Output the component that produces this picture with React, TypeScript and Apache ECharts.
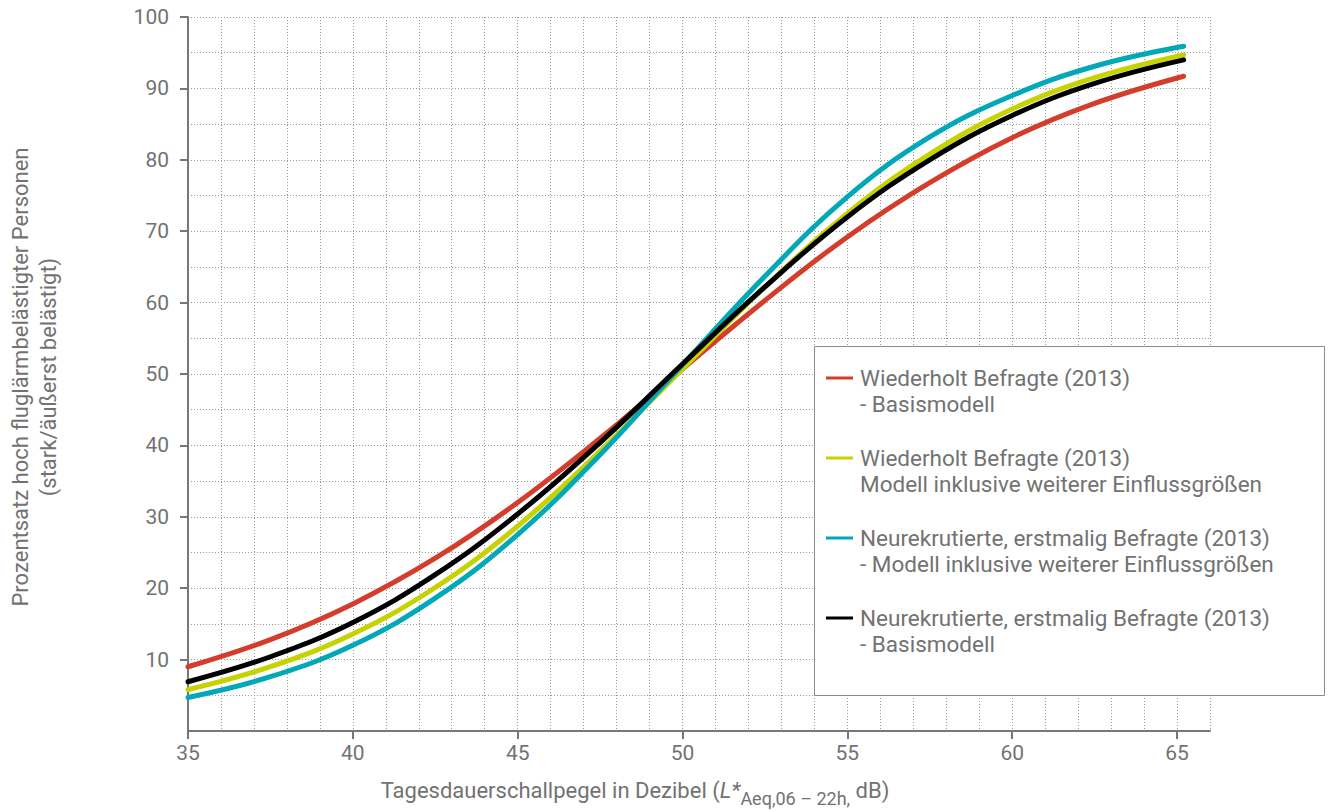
import React, { useEffect, useRef } from "react";
import * as echarts from "echarts";

const xValues = [35, 37.5, 40, 42.5, 45, 47.5, 50, 52.5, 55, 57.5, 60, 62.5, 65.2];
const redBasis = [9.0, 12.8, 17.8, 24.2, 32.0, 41.0, 50.7, 60.3, 69.2, 76.8, 83.1, 87.9, 91.7];
const yellowModel = [5.8, 9.0, 13.6, 20.1, 28.7, 39.2, 50.7, 62.2, 72.5, 80.8, 87.1, 91.5, 94.7];
const cyanModel = [4.7, 7.6, 12.0, 18.6, 27.5, 38.7, 51.3, 63.7, 74.8, 83.2, 89.0, 93.1, 95.9];
const blackBasis = [6.9, 10.4, 15.2, 21.9, 30.4, 40.4, 51.4, 62.2, 72.0, 80.0, 86.2, 90.7, 94.0];

const xTickValues = [35, 40, 45, 50, 55, 60, 65];
const yTickValues = [10, 20, 30, 40, 50, 60, 70, 80, 90, 100];

const seriesNames = [
  "Wiederholt Befragte (2013)\n- Basismodell",
  "Wiederholt Befragte (2013)\nModell inklusive weiterer Einflussgrößen",
  "Neurekrutierte, erstmalig Befragte (2013)\n- Modell inklusive weiterer Einflussgrößen",
  "Neurekrutierte, erstmalig Befragte (2013)\n- Basismodell",
];
const seriesColors = ["#d43d2b", "#c6d300", "#00a8b8", "#000000"];
const seriesValues = [redBasis, yellowModel, cyanModel, blackBasis];

const FONT = "Roboto";
const TEXT_COLOR = "#727272";
const AXIS_COLOR = "#777777";
const GRID_COLOR = "#9a9a9a";

export default function App() {
  const ref = useRef<HTMLDivElement>(null);

  useEffect(() => {
    if (!ref.current) return;
    const chart = echarts.init(ref.current, null, { renderer: "svg" });

    const series = seriesNames.map((name, i) => ({
      name,
      type: "line",
      xAxisIndex: 0,
      yAxisIndex: 0,
      smooth: 0.4,
      showSymbol: false,
      symbol: "none",
      color: seriesColors[i],
      lineStyle: { width: 5, color: seriesColors[i], cap: "round" },
      data: xValues.map((x, j) => [x, seriesValues[i][j]]),
    }));

    chart.setOption({
      animation: false,
      backgroundColor: "#ffffff",
      textStyle: { fontFamily: FONT },
      grid: { left: 188, top: 17, right: 123, bottom: 79, containLabel: false },
      xAxis: [
        {
          type: "value",
          min: 35,
          max: 66,
          interval: 5,
          position: "bottom",
          z: 3,
          axisLine: { show: true, lineStyle: { color: AXIS_COLOR, width: 2 } },
          axisTick: {
            show: true,
            length: 8,
            customValues: xTickValues,
            lineStyle: { color: AXIS_COLOR, width: 2 },
          },
          axisLabel: {
            customValues: xTickValues,
            color: TEXT_COLOR,
            fontSize: 21,
            fontFamily: FONT,
            margin: 11,
          },
          splitLine: { show: false },
        },
        {
          type: "value",
          min: 35,
          max: 66,
          interval: 1,
          position: "top",
          z: 1,
          axisLine: { show: false },
          axisTick: { show: false },
          axisLabel: { show: false },
          splitLine: { show: true, lineStyle: { color: GRID_COLOR, width: 1, type: [1, 2] } },
        },
      ],
      yAxis: [
        {
          type: "value",
          min: 0,
          max: 100,
          interval: 10,
          position: "left",
          z: 3,
          axisLine: { show: true, lineStyle: { color: AXIS_COLOR, width: 2 } },
          axisTick: {
            show: true,
            length: 8,
            customValues: yTickValues,
            lineStyle: { color: AXIS_COLOR, width: 2 },
          },
          axisLabel: {
            customValues: yTickValues,
            color: TEXT_COLOR,
            fontSize: 21,
            fontFamily: FONT,
            margin: 19,
          },
          splitLine: { show: false },
        },
        {
          type: "value",
          min: 0,
          max: 100,
          interval: 5,
          position: "right",
          z: 1,
          axisLine: { show: false },
          axisTick: { show: false },
          axisLabel: { show: false },
          splitLine: { show: true, lineStyle: { color: GRID_COLOR, width: 1, type: [1, 2] } },
        },
      ],
      legend: {
        show: true,
        orient: "vertical",
        left: 826,
        top: 339,
        padding: 0,
        itemGap: 2,
        itemWidth: 27,
        itemHeight: 3,
        icon: "rect",
        data: seriesNames,
        formatter: (name: string) => " \n" + name,
        textStyle: {
          color: TEXT_COLOR,
          fontSize: 22.5,
          fontFamily: FONT,
          lineHeight: 26,
          padding: [0, 0, 0, 2],
        },
        z: 10,
      },
      graphic: [
        {
          type: "rect",
          z: 5,
          shape: { x: 814.5, y: 346.5, width: 510, height: 349 },
          style: { fill: "#ffffff", stroke: "#8a8a8a", lineWidth: 1 },
        },
        {
          type: "text",
          x: 34,
          y: 377,
          rotation: Math.PI / 2,
          style: {
            text: "Prozentsatz hoch fluglärmbelästigter Personen\n(stark/äußerst belästigt)",
            fill: TEXT_COLOR,
            fontSize: 22,
            fontFamily: FONT,
            lineHeight: 28,
            align: "center",
            verticalAlign: "middle",
          },
        },
        {
          type: "text",
          x: 635,
          y: 790,
          style: {
            text: "{n|Tagesdauerschallpegel in Dezibel (}{i|L*}{s|Aeq,06 – 22h,}{n| dB)}",
            align: "center",
            verticalAlign: "middle",
            rich: {
              n: { fontSize: 22, fontFamily: FONT, fill: TEXT_COLOR, lineHeight: 34, verticalAlign: "middle" },
              i: { fontSize: 22, fontFamily: FONT, fill: TEXT_COLOR, fontStyle: "italic", lineHeight: 34, verticalAlign: "middle" },
              s: { fontSize: 18, fontFamily: FONT, fill: TEXT_COLOR, lineHeight: 34, verticalAlign: "bottom" },
            },
          },
        },
      ],
      series,
    });

    return () => chart.dispose();
  }, []);

  return (
    <div
      ref={ref}
      style={{ position: "absolute", left: 0, top: 0, width: 1333, height: 810 }}
    />
  );
}
